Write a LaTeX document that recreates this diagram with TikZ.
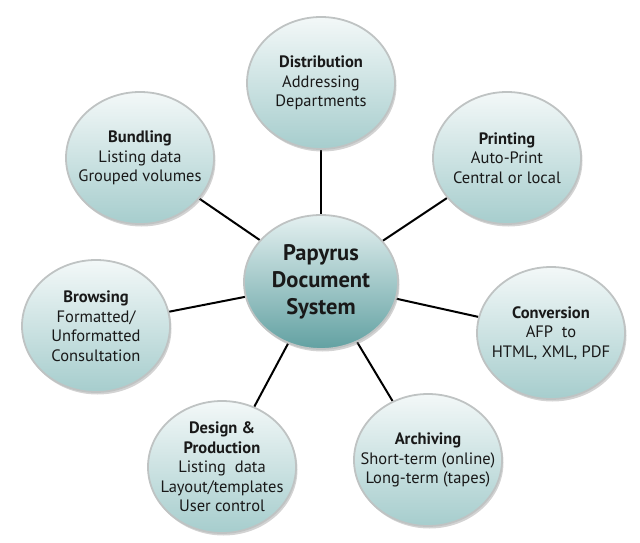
\documentclass[tikz,border=0pt]{standalone}
\usepackage{fontspec}
\setmainfont{PT Sans}
\usetikzlibrary{shapes.geometric,shadows,backgrounds}
\definecolor{outtop}{HTML}{F3F8F8}
\definecolor{outbot}{HTML}{A6CDCD}
\definecolor{centop}{HTML}{E4F0F0}
\definecolor{cenbot}{HTML}{62A1A2}
\definecolor{rim}{HTML}{BFC3C3}
\tikzset{
  bubble/.style={ellipse, minimum width=148pt, minimum height=132pt,
    inner xsep=-30pt, inner ysep=-30pt,
    top color=outtop, bottom color=outbot, draw=rim, line width=1.8pt,
    drop shadow={opacity=0.35, shadow xshift=1.5pt, shadow yshift=-2.5pt},
    align=center, font=\fontsize{16.5}{19.5}\selectfont, text=black!90},
  hub/.style={bubble, minimum width=154pt, minimum height=134pt,
    top color=centop, bottom color=cenbot, font=\fontsize{22.5}{27}\selectfont\bfseries},
  link/.style={draw=black, line width=2pt}
}
\begin{document}
\begin{tikzpicture}[x=1pt,y=-1pt]
\useasboundingbox (0,0) rectangle (640,543);
\node[hub] (hub) at (321,282) {Papyrus\\Document\\System};
\node[bubble] (dist) at (321,83) {\textbf{Distribution}\\Addressing\\Departments};
\node[bubble] (print) at (507,158) {\textbf{Printing}\\Auto-Print\\Central or local};
\node[bubble] (conv) at (551,333) {\textbf{Conversion}\\AFP\ \ to\\HTML, XML, PDF};
\node[bubble] (arch) at (428,460) {\textbf{Archiving}\\Short-term (online)\\Long-term (tapes)};
\node[bubble] (design) at (222,467) {\textbf{Design \&}\\\textbf{Production}\\Listing\ \ data\\Layout/templates\\User control};
\node[bubble] (browse) at (96,326) {\textbf{Browsing}\\Formatted/\\Unformatted\\Consultation};
\node[bubble] (bundle) at (140,158) {\textbf{Bundling}\\Listing data\\Grouped volumes};
\begin{scope}[on background layer]
\foreach \n in {dist,print,conv,arch,design,browse,bundle}
  \draw[link] (hub) -- (\n);
\end{scope}
\end{tikzpicture}
\end{document}
